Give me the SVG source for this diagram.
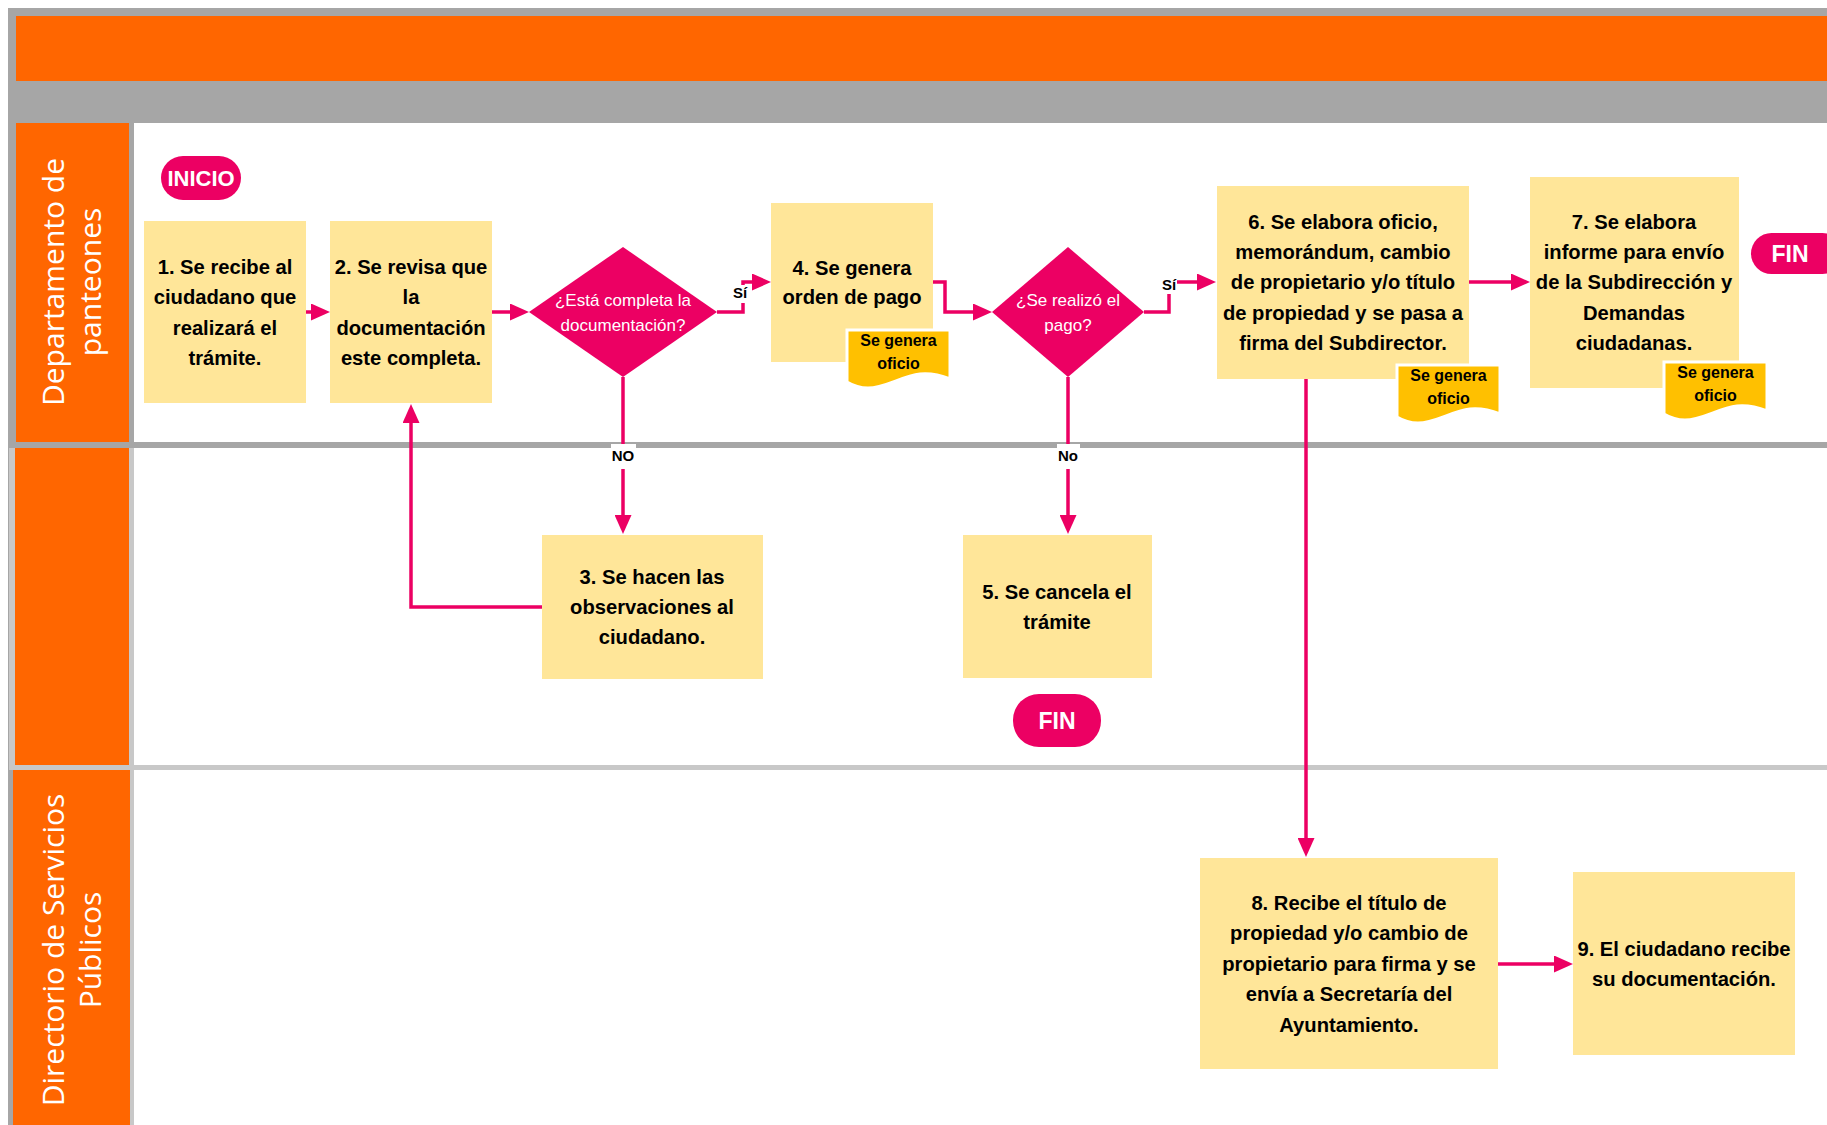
<svg xmlns="http://www.w3.org/2000/svg" width="1827" height="1125" viewBox="0 0 1827 1125">
<style>
.lane{fill:#FF6600}
.white{fill:#FFFFFF}
.box{fill:#FFE699}
.doc{fill:#FFC000;stroke:#FFFFFF;stroke-width:3}
.pink{fill:#EC0063}
.t{font-family:"Liberation Sans",Arial,sans-serif;font-weight:bold;font-size:20.2px;text-anchor:middle;fill:#000}
.dt{font-family:"Liberation Sans",Arial,sans-serif;font-size:17px;text-anchor:middle;fill:#FFFFFF}
.st{font-family:"Liberation Sans",Arial,sans-serif;font-weight:bold;font-size:16px;text-anchor:middle;fill:#000}
.pt{font-family:"Liberation Sans",Arial,sans-serif;font-weight:bold;font-size:22px;text-anchor:middle;fill:#FFFFFF}
.lbl{font-family:"Liberation Sans",Arial,sans-serif;font-weight:bold;font-size:15px;text-anchor:middle;fill:#000}
.ln{font-family:"Open Sans","Noto Sans",sans-serif;font-size:30px;text-anchor:middle;fill:#FFFFFF}
.c{fill:none;stroke:#EC0063;stroke-width:3.5;marker-end:url(#ah)}
</style>
<defs>
<marker id="ah" markerUnits="userSpaceOnUse" markerWidth="19" markerHeight="17" viewBox="0 0 19 17" refX="13" refY="8.5" orient="auto">
<path d="M0,0 L19,8.5 L0,17 Z" fill="#EC0063"/>
</marker>
<path id="docshape" d="M0,0 H103 V49 C93,45 83,43 73,44 C55,46 38,58 21,58 C12,58 5,55 0,52 Z"/>
</defs>

<g id="background">
<rect x="0" y="0" width="1827" height="1125" fill="#FFFFFF"/>
<rect x="8" y="8" width="1819" height="1117" fill="#A6A6A6"/>
<rect x="16" y="16" width="1811" height="65" class="lane"/>
</g>

<g id="lane1">
<rect x="16" y="123" width="113" height="319" class="lane"/>
<rect x="134" y="123" width="1693" height="319" class="white"/>
<text class="ln" transform="translate(64,282) rotate(-90)">Departamento de</text>
<text class="ln" transform="translate(101,282) rotate(-90)">panteones</text>
</g>

<g id="lane2">
<rect x="9" y="448" width="6" height="317" fill="#C8C8C8"/>
<rect x="129" y="448" width="5" height="317" fill="#C8C8C8"/>
<rect x="15" y="448" width="114" height="317" class="lane"/>
<rect x="134" y="448" width="1693" height="317" class="white"/>
<rect x="9" y="765" width="1818" height="5" fill="#C8C8C8"/>
</g>

<g id="lane3">
<rect x="130" y="770" width="4" height="355" fill="#C8C8C8"/>
<rect x="13" y="770" width="117" height="355" class="lane"/>
<rect x="134" y="770" width="1693" height="355" class="white"/>
<text class="ln" transform="translate(64,950) rotate(-90)">Directorio de Servicios</text>
<text class="ln" transform="translate(101,950) rotate(-90)">Públicos</text>
</g>

<g id="connectors">
<path class="c" d="M305,312 H324"/>
<path class="c" d="M491,312 H523"/>
<path class="c" d="M717,312 H743 V282 H765"/>
<path class="c" d="M623,377 V528"/>
<path class="c" d="M542,607 H411 V410"/>
<path class="c" d="M933,282 H945 V312 H986"/>
<path class="c" d="M1144,312 H1169 V282 H1210"/>
<path class="c" d="M1068,377 V528"/>
<path class="c" d="M1469,282 H1524"/>
<path class="c" d="M1306,379 V851"/>
<path class="c" d="M1498,964 H1567"/>
<rect x="733" y="285" width="15" height="18" fill="#FFFFFF"/>
<text class="lbl" x="740" y="298">Sí</text>
<rect x="1161" y="277" width="16" height="17" fill="#FFFFFF"/>
<text class="lbl" x="1169" y="290">Sí</text>
<rect x="611" y="444" width="25" height="25" fill="#FFFFFF"/>
<text class="lbl" x="623" y="461">NO</text>
<rect x="1057" y="444" width="23" height="25" fill="#FFFFFF"/>
<text class="lbl" x="1068" y="461">No</text>
</g>

<g id="inicio">
<rect x="161" y="156" width="80" height="44" rx="22" class="pink"/>
<text class="pt" x="201" y="186">INICIO</text>
</g>

<g id="n1">
<rect x="144" y="221" width="162" height="182" class="box"/>
<text class="t" x="225" y="274">1. Se recibe al</text>
<text class="t" x="225" y="304">ciudadano que</text>
<text class="t" x="225" y="335">realizará el</text>
<text class="t" x="225" y="365">trámite.</text>
</g>

<g id="n2">
<rect x="330" y="221" width="162" height="182" class="box"/>
<text class="t" x="411" y="274">2. Se revisa que</text>
<text class="t" x="411" y="304">la</text>
<text class="t" x="411" y="335">documentación</text>
<text class="t" x="411" y="365">este completa.</text>
</g>

<g id="d1">
<path d="M623,247 L717,312 L623,377 L529,312 Z" class="pink"/>
<text class="dt" x="623" y="306">¿Está completa la</text>
<text class="dt" x="623" y="331">documentación?</text>
</g>

<g id="n3">
<rect x="542" y="535" width="221" height="144" class="box"/>
<text class="t" x="652" y="584">3. Se hacen las</text>
<text class="t" x="652" y="614">observaciones al</text>
<text class="t" x="652" y="644">ciudadano.</text>
</g>

<g id="n4">
<rect x="771" y="203" width="162" height="159" class="box"/>
<text class="t" x="852" y="275">4. Se genera</text>
<text class="t" x="852" y="304">orden de pago</text>
</g>

<g id="doc4" transform="translate(847,330)">
<use href="#docshape" class="doc"/>
<text class="st" x="51.5" y="16">Se genera</text>
<text class="st" x="51.5" y="39">oficio</text>
</g>

<g id="d2">
<path d="M1068,247 L1144,312 L1068,377 L992,312 Z" class="pink"/>
<text class="dt" x="1068" y="306">¿Se realizó el</text>
<text class="dt" x="1068" y="331">pago?</text>
</g>

<g id="n5">
<rect x="963" y="535" width="189" height="143" class="box"/>
<text class="t" x="1057" y="599">5. Se cancela el</text>
<text class="t" x="1057" y="629">trámite</text>
</g>

<g id="fin2">
<rect x="1013" y="694" width="88" height="53" rx="26" class="pink"/>
<text class="pt" x="1057" y="729" style="font-size:23px">FIN</text>
</g>

<g id="n6">
<rect x="1217" y="186" width="252" height="193" class="box"/>
<text class="t" x="1343" y="229">6. Se elabora oficio,</text>
<text class="t" x="1343" y="259">memorándum, cambio</text>
<text class="t" x="1343" y="289">de propietario y/o título</text>
<text class="t" x="1343" y="320">de propiedad y se pasa a</text>
<text class="t" x="1343" y="350">firma del Subdirector.</text>
</g>

<g id="doc6" transform="translate(1397,365)">
<use href="#docshape" class="doc"/>
<text class="st" x="51.5" y="16">Se genera</text>
<text class="st" x="51.5" y="39">oficio</text>
</g>

<g id="n7">
<rect x="1530" y="177" width="209" height="211" class="box"/>
<text class="t" x="1634" y="229">7. Se elabora</text>
<text class="t" x="1634" y="259">informe para envío</text>
<text class="t" x="1634" y="289">de la Subdirección y</text>
<text class="t" x="1634" y="320">Demandas</text>
<text class="t" x="1634" y="350">ciudadanas.</text>
</g>

<g id="doc7" transform="translate(1664,362)">
<use href="#docshape" class="doc"/>
<text class="st" x="51.5" y="16">Se genera</text>
<text class="st" x="51.5" y="39">oficio</text>
</g>

<g id="fin1">
<rect x="1751" y="233" width="92" height="41" rx="20.5" class="pink"/>
<text class="pt" x="1790" y="262" style="font-size:23px">FIN</text>
</g>

<g id="n8">
<rect x="1200" y="858" width="298" height="211" class="box"/>
<text class="t" x="1349" y="910">8. Recibe el título de</text>
<text class="t" x="1349" y="940">propiedad y/o cambio de</text>
<text class="t" x="1349" y="971">propietario para firma y se</text>
<text class="t" x="1349" y="1001">envía a Secretaría del</text>
<text class="t" x="1349" y="1032">Ayuntamiento.</text>
</g>

<g id="n9">
<rect x="1573" y="872" width="222" height="183" class="box"/>
<text class="t" x="1684" y="956">9. El ciudadano recibe</text>
<text class="t" x="1684" y="986">su documentación.</text>
</g>
</svg>
